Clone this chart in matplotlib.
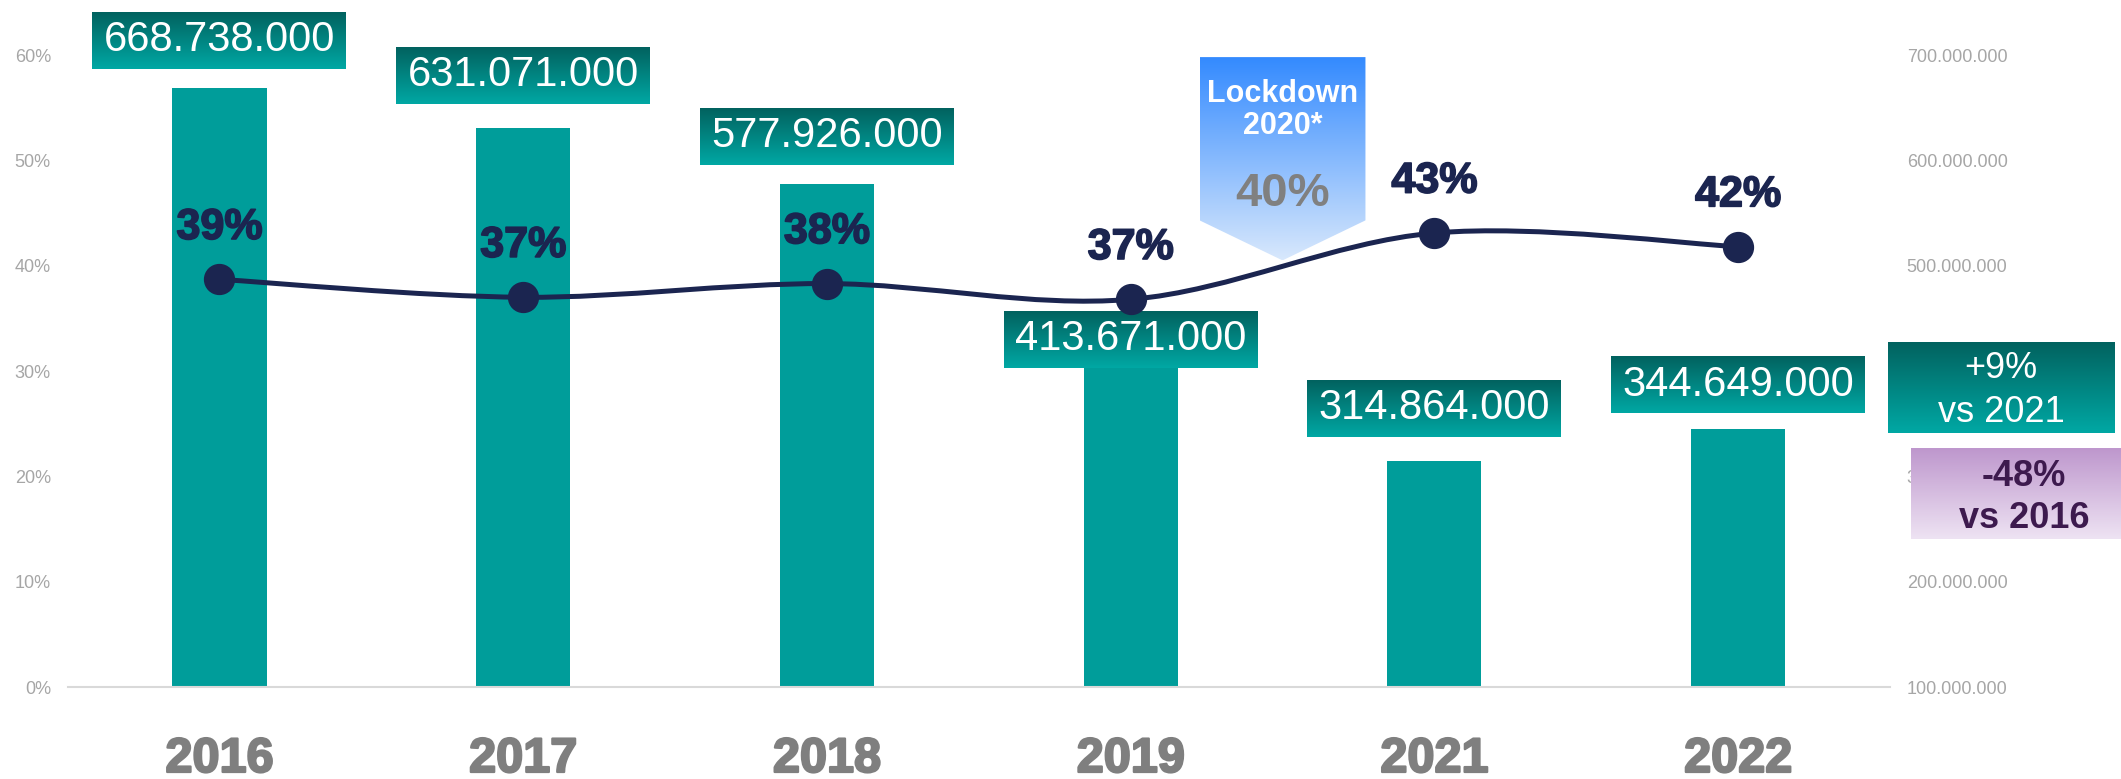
import numpy as np
import matplotlib
matplotlib.use("Agg")
import matplotlib.pyplot as plt
import matplotlib.patheffects as pe
from matplotlib.path import Path
from matplotlib.patches import PathPatch, Polygon
from matplotlib.transforms import IdentityTransform
from matplotlib.colors import to_rgb
from matplotlib.ticker import PercentFormatter, FuncFormatter

# data
years = ['2016', '2017', '2018', '2019', '2021', '2022']
visitors = [668738000, 631071000, 577926000, 413671000, 314864000, 344649000]
share = [0.387, 0.370, 0.383, 0.368, 0.431, 0.418]
share_labels = ['39%', '37%', '38%', '37%', '43%', '42%']
lockdown_label = '40%'

W, H, DPI = 2121, 779, 100

plt.rcParams['font.family'] = ['Liberation Sans', 'DejaVu Sans']

TEAL = '#009d9a'
TEAL_TOP, TEAL_BOT = '#02625f', '#00a8a4'
NAVY = '#1b2550'
GRAY_TICK = '#a6a6a6'
YEAR_GRAY = '#7f7f7f'


def thousands(v, pos=None):
    return f"{int(round(v)):,}".replace(',', '.')


def gradient_box(ax, x0, y0, x1, y1, top, bottom, clip=None, zorder=3):
    """Vertical gradient in display pixels (y up)."""
    c = np.linspace(0, 1, 128)[:, None]
    img = (np.array(to_rgb(top)) * (1 - c) + np.array(to_rgb(bottom)) * c)[:, None, :]
    im = ax.imshow(img, extent=(x0, x1, y0, y1), origin='upper', aspect='auto',
                   transform=IdentityTransform(), interpolation='bilinear',
                   zorder=zorder)
    if clip is None:
        im.set_clip_on(False)
    else:
        im.set_clip_box(None)
        im.set_clip_path(clip)
    return im


fig = plt.figure(figsize=(W / DPI, H / DPI), dpi=DPI, facecolor='white')
ax = fig.add_axes([67.6 / W, 92 / H, (1890 - 67.6) / W, 632 / H])
ax2 = ax.twinx()
ax.set_zorder(ax2.get_zorder() + 1)
ax.patch.set_visible(False)

x = np.arange(len(years))
ax.set_xlim(-0.5, 5.5)
ax.set_ylim(0, 0.6)
ax2.set_ylim(100e6, 700e6)

# bars (right axis)
ax2.bar(x, visitors, width=0.31, color=TEAL, zorder=2)

# smooth line (left axis), Catmull-Rom style bezier through the points
pts = np.column_stack([x, share])
ext = np.vstack([pts[0], pts, pts[-1]])
verts, codes = [pts[0]], [Path.MOVETO]
for i in range(len(pts) - 1):
    p0, p1, p2, p3 = ext[i], ext[i + 1], ext[i + 2], ext[i + 3]
    verts += [p1 + (p2 - p0) / 6, p2 - (p3 - p1) / 6, p2]
    codes += [Path.CURVE4] * 3
ax.add_patch(PathPatch(Path(verts, codes), fill=False, ec=NAVY, lw=3.6,
                       capstyle='round', zorder=3))
ax.plot(x, share, 'o', ms=21.5, color=NAVY, zorder=4)

for xi, s, lab in zip(x, share, share_labels):
    ax.annotate(lab, (xi, s), xytext=(0, 37), textcoords='offset points',
                ha='center', va='center', fontsize=31, fontweight='bold',
                color=NAVY, zorder=5,
                path_effects=[pe.withStroke(linewidth=1.2, foreground=NAVY)])

# axes styling
for sp in ax.spines.values():
    sp.set_visible(False)
for sp in ax2.spines.values():
    sp.set_visible(False)
ax.spines['bottom'].set_visible(True)
ax.spines['bottom'].set_color('#d9d9d9')
ax.spines['bottom'].set_linewidth(1.5)

ax.set_xticks(x, years)
ax.tick_params(axis='x', length=0, pad=36, labelsize=35, labelcolor=YEAR_GRAY)
for lbl in ax.get_xticklabels():
    lbl.set_fontweight('bold')
    lbl.set_path_effects([pe.withStroke(linewidth=1.6, foreground=YEAR_GRAY)])
ax.set_yticks(np.arange(0, 0.61, 0.1))
ax.yaxis.set_major_formatter(PercentFormatter(1, decimals=0))
ax.tick_params(axis='y', length=0, pad=12, labelsize=13, labelcolor=GRAY_TICK)
ax2.set_yticks(np.arange(100e6, 701e6, 100e6))
ax2.yaxis.set_major_formatter(FuncFormatter(thousands))
ax2.tick_params(axis='y', length=0, pad=12, labelsize=13, labelcolor=GRAY_TICK)

# value boxes above bars (pixel gap between bar top and box bottom)
box_gap = [19, 24, 19, -11, 24, 16]
box_w, box_h = 254, 57
for xi, v, g in zip(x, visitors, box_gap):
    px, py = ax2.transData.transform((xi, v))
    y0 = py + g
    gradient_box(ax2, px - box_w / 2, y0, px + box_w / 2, y0 + box_h,
                 TEAL_TOP, TEAL_BOT, zorder=3)
    ax2.text(px, y0 + box_h / 2, thousands(v), transform=IdentityTransform(),
             ha='center', va='center', fontsize=30, color='white', zorder=4)

# lockdown 2020 arrow between 2019 and 2021
lx = 3.5
left = ax.transData.transform((lx - 0.273, 0.598))
right = ax.transData.transform((lx + 0.273, 0.598))
shoulder = ax.transData.transform((lx, 0.443))[1]
tip = ax.transData.transform((lx, 0.405))
arrow = [(left[0], left[1]), (right[0], right[1]), (right[0], shoulder),
         (tip[0], tip[1]), (left[0], shoulder)]
clip = Polygon(arrow, closed=True, transform=IdentityTransform())
gradient_box(ax2, left[0], tip[1], right[0], left[1], '#338aff', '#d8e8fc',
             clip=clip, zorder=2.5)
cx, top = tip[0], left[1]
ax2.text(cx, top - 37, 'Lockdown', transform=IdentityTransform(), ha='center',
         va='center', fontsize=22, fontweight='bold', color='white', zorder=4)
ax2.text(cx, top - 69, '2020*', transform=IdentityTransform(), ha='center',
         va='center', fontsize=22, fontweight='bold', color='white', zorder=4)
ax2.text(cx, top - 137, lockdown_label, transform=IdentityTransform(),
         ha='center', va='center', fontsize=34, fontweight='bold',
         color='#808080', zorder=4)

# comparison boxes on the right, over the tick labels
ov = fig.add_axes([0, 0, 1, 1], zorder=10)
ov.set_xlim(0, W)
ov.set_ylim(0, H)
ov.axis('off')
gradient_box(ov, 1888, H - 433, 2115, H - 342, TEAL_TOP, TEAL_BOT)
ov.text(2001, H - 368, '+9%', transform=IdentityTransform(), ha='center',
        va='center', fontsize=26, color='white')
ov.text(2001, H - 412, 'vs 2021', transform=IdentityTransform(), ha='center',
        va='center', fontsize=26, color='white')
gradient_box(ov, 1911, H - 539, 2121, H - 448, '#be97cd', '#eee3f3')
ov.text(2024, H - 477, '-48%', transform=IdentityTransform(), ha='center',
        va='center', fontsize=26, fontweight='bold', color='#3d1a4e')
ov.text(2024, H - 518, 'vs 2016', transform=IdentityTransform(), ha='center',
        va='center', fontsize=26, fontweight='bold', color='#3d1a4e')

fig.savefig('out.png', dpi=DPI, facecolor='white')
